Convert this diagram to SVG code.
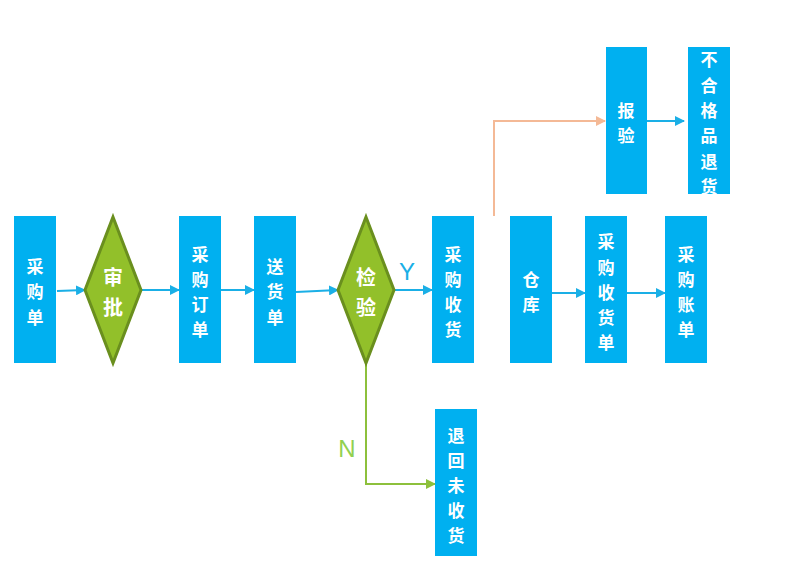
<svg xmlns="http://www.w3.org/2000/svg" width="792" height="571" viewBox="0 0 792 571">
<style>
.box{fill:#00B0F0}
.dia{fill:#92C02A;stroke:#6A8F1E;stroke-width:3;stroke-linejoin:miter}
.t{fill:#fff;font-family:"Noto Sans CJK SC","Noto Sans CJK TC",sans-serif;font-size:17px;font-weight:bold;text-anchor:middle;dominant-baseline:central}
.td{fill:#fff;font-family:"Noto Sans CJK SC",sans-serif;font-size:20px;font-weight:bold;text-anchor:middle;dominant-baseline:central}
.c{fill:none;stroke-width:2}
.b{stroke:#1AAFE6}
.o{stroke:#F4B996}
.g{stroke:#8DC03C}
.lbl{font-family:"Liberation Sans",Arial,sans-serif;font-size:24px;text-anchor:middle;dominant-baseline:central}
</style>
<defs>
<marker id="ab" markerWidth="10" markerHeight="10" refX="9" refY="5" orient="auto" markerUnits="userSpaceOnUse"><path d="M0,0 L10,5 L0,10 Z" fill="#1AAFE6"/></marker>
<marker id="ao" markerWidth="10" markerHeight="10" refX="9" refY="5" orient="auto" markerUnits="userSpaceOnUse"><path d="M0,0 L10,5 L0,10 Z" fill="#F4B996"/></marker>
<marker id="ag" markerWidth="10" markerHeight="10" refX="9" refY="5" orient="auto" markerUnits="userSpaceOnUse"><path d="M0,0 L10,5 L0,10 Z" fill="#8DC03C"/></marker>
</defs>
<g id="connectors">
<line class="c b" x1="57" y1="291" x2="85" y2="290" marker-end="url(#ab)"/>
<line class="c b" x1="142" y1="290" x2="179" y2="290" marker-end="url(#ab)"/>
<line class="c b" x1="221" y1="290" x2="254" y2="290" marker-end="url(#ab)"/>
<line class="c b" x1="296" y1="292" x2="338" y2="290" marker-end="url(#ab)"/>
<line class="c b" x1="395" y1="290" x2="432" y2="290" marker-end="url(#ab)"/>
<line class="c b" x1="552" y1="293" x2="585" y2="293" marker-end="url(#ab)"/>
<line class="c b" x1="627" y1="293" x2="665" y2="293" marker-end="url(#ab)"/>
<line class="c b" x1="647" y1="121" x2="684" y2="121" marker-end="url(#ab)"/>
<polyline class="c o" points="494,216 494,121 605,121" marker-end="url(#ao)"/>
<polyline class="c g" points="366,364 366,484 435,484" marker-end="url(#ag)"/>
<text class="lbl" x="407" y="271" fill="#1AAFE6">Y</text>
<text class="lbl" x="347" y="448" fill="#92D050">N</text>
</g>
<g id="n1"><rect class="box" x="14" y="216" width="42" height="147"/><text class="t" x="35"><tspan x="35" y="265">采</tspan><tspan x="35" y="290">购</tspan><tspan x="35" y="316">单</tspan></text></g>
<g id="n2"><polygon class="dia" points="113,217 141,290 113,363 85,290"/><text class="td" x="113"><tspan x="113" y="276">审</tspan><tspan x="113" y="306">批</tspan></text></g>
<g id="n3"><rect class="box" x="179" y="216" width="42" height="147"/><text class="t"><tspan x="200" y="253">采</tspan><tspan x="200" y="278">购</tspan><tspan x="200" y="303">订</tspan><tspan x="200" y="328">单</tspan></text></g>
<g id="n4"><rect class="box" x="254" y="216" width="42" height="147"/><text class="t"><tspan x="275" y="265">送</tspan><tspan x="275" y="290">货</tspan><tspan x="275" y="316">单</tspan></text></g>
<g id="n5"><polygon class="dia" points="366,217 394,290 366,363 338,290"/><text class="td"><tspan x="366" y="276">检</tspan><tspan x="366" y="306">验</tspan></text></g>
<g id="n6"><rect class="box" x="432" y="216" width="42" height="147"/><text class="t"><tspan x="453" y="253">采</tspan><tspan x="453" y="278">购</tspan><tspan x="453" y="303">收</tspan><tspan x="453" y="328">货</tspan></text></g>
<g id="n7"><rect class="box" x="510" y="216" width="42" height="147"/><text class="t"><tspan x="531" y="278">仓</tspan><tspan x="531" y="303">库</tspan></text></g>
<g id="n8"><rect class="box" x="585" y="216" width="42" height="147"/><text class="t"><tspan x="606" y="240">采</tspan><tspan x="606" y="266">购</tspan><tspan x="606" y="291">收</tspan><tspan x="606" y="316">货</tspan><tspan x="606" y="341">单</tspan></text></g>
<g id="n9"><rect class="box" x="665" y="216" width="42" height="147"/><text class="t"><tspan x="686" y="253">采</tspan><tspan x="686" y="278">购</tspan><tspan x="686" y="303">账</tspan><tspan x="686" y="328">单</tspan></text></g>
<g id="n10"><rect class="box" x="606" y="47" width="41" height="147"/><text class="t"><tspan x="626" y="109">报</tspan><tspan x="626" y="134">验</tspan></text></g>
<g id="n11"><rect class="box" x="688" y="47" width="42" height="147"/><text class="t"><tspan x="709" y="58">不</tspan><tspan x="709" y="84">合</tspan><tspan x="709" y="109">格</tspan><tspan x="709" y="134">品</tspan><tspan x="709" y="160">退</tspan><tspan x="709" y="185">货</tspan></text></g>
<g id="n12"><rect class="box" x="435" y="409" width="42" height="147"/><text class="t"><tspan x="456" y="434">退</tspan><tspan x="456" y="459">回</tspan><tspan x="456" y="484">未</tspan><tspan x="456" y="509">收</tspan><tspan x="456" y="534">货</tspan></text></g>
</svg>
